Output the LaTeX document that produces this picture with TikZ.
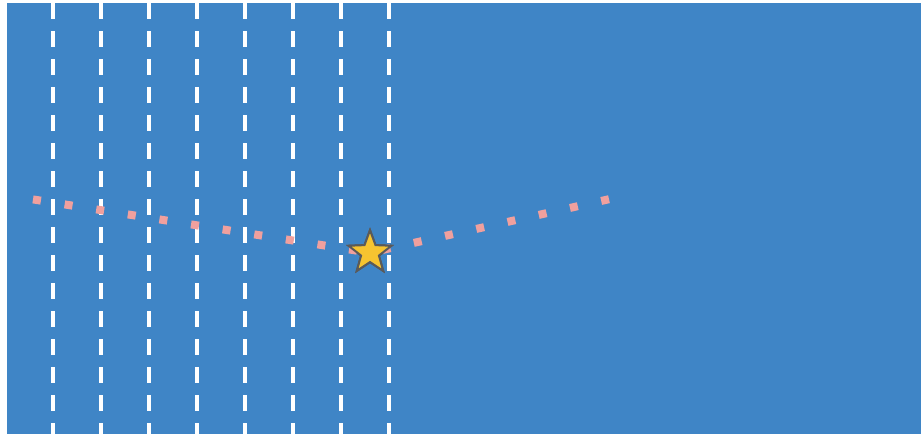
\documentclass[tikz,border=0pt]{standalone}
\usetikzlibrary{shapes.geometric}
\definecolor{bgblue}{RGB}{63,133,198}
\definecolor{dotpink}{RGB}{240,160,158}
\definecolor{staryellow}{RGB}{246,196,48}
\definecolor{stargray}{RGB}{90,90,90}
\tikzset{
  lane/.style={white, line width=3.5pt, dash pattern=on 16pt off 12pt},
  pinkdots/.style={dotpink, line width=8pt, dash pattern=on 8pt off 24pt},
  starmark/.style={star, star points=5, star point ratio=2.4, minimum size=45pt, inner sep=0pt,
    fill=staryellow, draw=stargray, line width=2pt}
}
\begin{document}
\begin{tikzpicture}[x=1pt,y=-1pt]
\useasboundingbox (0,0) rectangle (921,437);
\fill[bgblue] (7,3) rectangle (921,434);
\foreach \x in {53,101,149,197,245,293,341,389}{
  \draw[lane] (\x,3) -- (\x,434);
}
\coordinate (L) at (33,199.4);
\coordinate (R) at (609,199.2);
\node[starmark] (S) at (370,252.7) {};
\draw[pinkdots] (L) -- (S.center);
\draw[pinkdots] (R) -- (S.center);
\node[starmark] at (S.center) {};
\end{tikzpicture}
\end{document}
